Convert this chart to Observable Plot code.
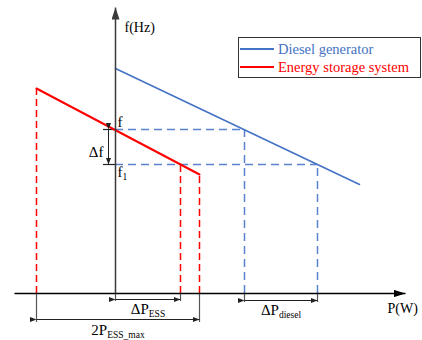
<!DOCTYPE html>
<html><head><meta charset="utf-8">
<script src="https://cdn.jsdelivr.net/npm/d3@7"></script>
<script src="https://cdn.jsdelivr.net/npm/@observablehq/plot@0.6"></script>
<style>
html,body{margin:0;padding:0;background:#fff;}
#wrap{position:relative;width:422px;height:340px;font-family:"Liberation Serif","Times New Roman",serif;}
#wrap svg text{font-family:"Liberation Serif","Times New Roman",serif;}
#legend{position:absolute;left:238px;top:37px;width:181px;height:37px;border:1px solid #333;padding-top:2px;background:#fff;}
.row{display:flex;align-items:center;height:18px;font-size:14.5px;white-space:nowrap;}
.swatch{margin-left:1px;width:34px;height:2px;margin-right:4px;}
</style></head><body><div id="wrap"></div>
<script>
// ---- data (P in power units, f in frequency units) ----
const axisP = [-101, 290];            // extent of the P axis
const axisF = [0, 286];               // extent of the f axis
const seriesNames = ["Diesel generator", "Energy storage system"];
const seriesColors = ["#4472c4", "#ff0000"];
const dieselP = [0, 244];
const dieselF = [225, 109];
const essP = [-79, 84];
const essF = [205, 119];
const fLevels = [164, 129];           // f, f1
const dieselPAtF = [129, 202];        // diesel output at f, f1
const essPAtF1 = [65];                // ESS output at f1
const essPMax = [-79, 84];            // ESS output range
const dimLabels = ["ΔP|ESS", "2P|ESS_max", "ΔP|diesel"];
const axisLabels = ["f(Hz)", "P(W)"];
const levelLabels = ["f", "f|1", "Δf"];

// ---- derived tables ----
const dieselLine = dieselP.map((P, i) => ({P, f: dieselF[i]}));
const essLine = essP.map((P, i) => ({P, f: essF[i]}));
const redDrops = [
  {P: essP[0], f: essF[0]},
  {P: essPAtF1[0], f: fLevels[1]},
  {P: essP[1], f: essF[1]}
];
const blueDrops = dieselPAtF.map((P, i) => ({P, f: fLevels[i]}));
// dimension lines below the P axis (offsets are layout)
const dims = [
  {x1: 0, x2: essPAtF1[0], y: -6, ext: -8, ly: -16, label: dimLabels[0]},
  {x1: essPMax[0], x2: essPMax[1], y: -26, ext: -29, ly: -37, label: dimLabels[1]},
  {x1: dieselPAtF[0], x2: dieselPAtF[1], y: -7, ext: -9, ly: -17, label: dimLabels[2]}
];
const ext = dims.flatMap(d => [{P: d.x1, f: d.ext}, {P: d.x2, f: d.ext}]);
const dimLinks = dims.map(d => ({x1: d.x1, x2: d.x2, y1: d.y, y2: d.y}));
dimLinks.push({x1: -7, x2: -7, y1: fLevels[0], y2: fLevels[1]});

const font = '"Liberation Serif", "Times New Roman", serif';
const AXIS_H = "#000000", AXIS_V = "#3a3a3a", DIM = "#222222";

const plot = Plot.plot({
  width: 422, height: 340,
  marginTop: 0, marginRight: 0, marginBottom: 0, marginLeft: 0,
  x: {domain: [-115, 307], range: [0, 422], axis: null},
  y: {domain: [-47, 293], range: [340, 0], axis: null},
  style: {fontFamily: font, background: "transparent", color: "#000"},
  marks: [
    Plot.ruleX(redDrops, {x: "P", y1: () => 0, y2: "f", stroke: seriesColors[1], strokeWidth: 1.5, strokeDasharray: "7,4"}),
    Plot.ruleX(blueDrops, {x: "P", y1: () => 0, y2: "f", stroke: "#5b82cf", strokeWidth: 1.5, strokeDasharray: "8,5"}),
    Plot.ruleY(blueDrops, {y: "f", x1: () => 0, x2: "P", stroke: "#5b82cf", strokeWidth: 1.5, strokeDasharray: "8,5"}),
    Plot.ruleY(fLevels, {y: d => d, x1: () => -12, x2: () => 0, stroke: "#222", strokeWidth: 1.2}),
    Plot.ruleX(ext, {x: "P", y1: () => 0, y2: "f", stroke: "#555", strokeWidth: 1.2}),
    Plot.line(dieselLine, {x: "P", y: "f", stroke: seriesColors[0], strokeWidth: 1.6}),
    Plot.line(essLine, {x: "P", y: "f", stroke: seriesColors[1], strokeWidth: 2}),
    Plot.link([{a: axisP[0], b: axisP[1]}], {x1: "a", x2: "b", y1: () => 0, y2: () => 0, stroke: AXIS_H, strokeWidth: 1.5, markerEnd: "arrow"}),
    Plot.link([{a: axisF[0], b: axisF[1]}], {x1: () => 0, x2: () => 0, y1: "a", y2: "b", stroke: AXIS_V, strokeWidth: 1.5, markerEnd: "arrow"}),
    Plot.link(dimLinks, {x1: "x1", x2: "x2", y1: "y1", y2: "y2", stroke: DIM, strokeWidth: 1, markerStart: "arrow", markerEnd: "arrow"}),
    Plot.text([axisLabels[0]], {x: () => 9, y: () => axisF[1] - 20, text: d => d, textAnchor: "start", fontSize: 14, fontFamily: font}),
    Plot.text([axisLabels[1]], {x: () => axisP[1] - 18, y: () => -15, text: d => d, textAnchor: "start", fontSize: 14, fontFamily: font}),
    Plot.text([levelLabels[0]], {x: () => 2, y: () => fLevels[0], dy: -7, text: d => d, textAnchor: "start", fontSize: 15, fontFamily: font}),
    Plot.text([levelLabels[1]], {x: () => 2, y: () => fLevels[1], dy: 8, text: d => d, textAnchor: "start", fontSize: 15, fontFamily: font}),
    Plot.text([levelLabels[2]], {x: () => -12, y: () => (fLevels[0] + fLevels[1]) / 2, dy: 5, text: d => d, textAnchor: "end", fontSize: 15, fontFamily: font}),
    Plot.text(dims, {x: d => (d.x1 + d.x2) / 2, y: "ly", text: "label", textAnchor: "middle", fontSize: 15, fontFamily: font})
  ]
});

// filled arrowheads, sized by the marker colour
const NS = "http://www.w3.org/2000/svg";
const norm = c => d3.color(c) ? d3.color(c).formatHex() : c;
const markerSize = {[norm(AXIS_H)]: [12, 7.5], [norm(AXIS_V)]: [12, 8], [norm(DIM)]: [6.5, 5]};
plot.querySelectorAll("marker").forEach(mk => {
  const color = mk.getAttribute("stroke") || "#000";
  const [len, wid] = markerSize[norm(color)] || [6.5, 5];
  mk.setAttribute("viewBox", `${-len} ${-wid / 2} ${len} ${wid}`);
  mk.setAttribute("markerUnits", "userSpaceOnUse");
  mk.setAttribute("markerWidth", len);
  mk.setAttribute("markerHeight", wid);
  mk.setAttribute("fill", color);
  mk.setAttribute("stroke", "none");
  while (mk.firstChild) mk.removeChild(mk.firstChild);
  const p = document.createElementNS(NS, "path");
  p.setAttribute("d", `M${-len},${-wid / 2}L0,0L${-len},${wid / 2}Z`);
  mk.appendChild(p);
});

// subscripts: "main|sub"
plot.querySelectorAll("text").forEach(t => {
  const s = t.textContent;
  if (!s.includes("|")) return;
  const [main, sub] = s.split("|");
  t.textContent = "";
  const a = document.createElementNS(NS, "tspan");
  a.textContent = main;
  const b = document.createElementNS(NS, "tspan");
  b.textContent = sub;
  b.setAttribute("font-size", "9.5");
  b.setAttribute("dy", "3");
  t.appendChild(a);
  t.appendChild(b);
});

const wrap = document.getElementById("wrap");
wrap.appendChild(plot);

// legend
const legend = document.createElement("div");
legend.id = "legend";
seriesNames.forEach((name, i) => {
  const row = document.createElement("div");
  row.className = "row";
  const sw = document.createElement("div");
  sw.className = "swatch";
  sw.style.background = seriesColors[i];
  const tx = document.createElement("span");
  tx.textContent = name;
  tx.style.color = seriesColors[i];
  row.appendChild(sw);
  row.appendChild(tx);
  legend.appendChild(row);
});
wrap.appendChild(legend);
</script></body></html>
